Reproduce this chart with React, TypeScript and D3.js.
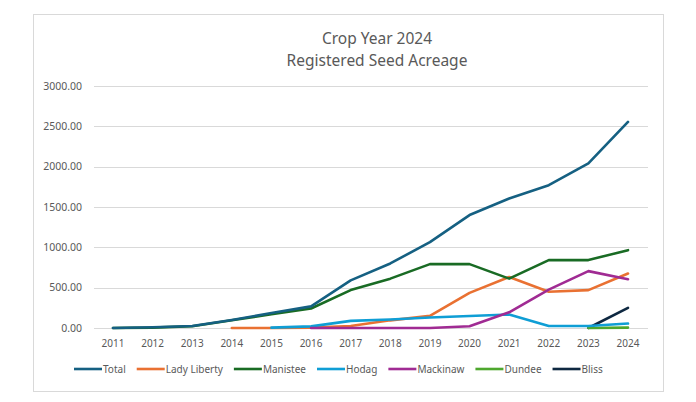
import React, { useEffect, useRef } from 'react';
import * as d3 from 'd3';

const years = ['2011', '2012', '2013', '2014', '2015', '2016', '2017', '2018', '2019', '2020', '2021', '2022', '2023', '2024'];

// null = no value for that year
const total = [0, 10, 25, 100, 185, 268, 590, 800, 1065, 1400, 1605, 1770, 2040, 2555];
const ladyLiberty = [null, null, null, 0, 0, 5, 25, 95, 150, 435, 632, 450, 470, 675];
const manistee = [0, 5, 22, 95, 170, 242, 470, 612, 792, 792, 612, 842, 842, 965];
const hodag = [null, null, null, null, 5, 20, 88, 105, 130, 148, 168, 25, 25, 55];
const mackinaw = [null, null, null, null, null, 0, 0, 0, 0, 22, 195, 475, 705, 605];
const dundee = [null, null, null, null, null, null, null, null, null, null, null, null, 0, 5];
const bliss = [null, null, null, null, null, null, null, null, null, null, null, null, 0, 250];

const seriesNames = ['Total', 'Lady Liberty', 'Manistee', 'Hodag', 'Mackinaw', 'Dundee', 'Bliss'];
const seriesColors = ['#156082', '#E97132', '#196B24', '#0F9ED5', '#A02B93', '#4EA72E', '#0E2841'];
const seriesValues = [total, ladyLiberty, manistee, hodag, mackinaw, dundee, bliss];
// draw order so Total sits on top like the original
const drawOrder = [6, 5, 1, 3, 4, 2, 0];

const yTicks = [0, 500, 1000, 1500, 2000, 2500, 3000];
const titleLines = ['Crop Year 2024', 'Registered Seed Acreage'];

const App: React.FC = () => {
  const svgRef = useRef<SVGSVGElement>(null);

  useEffect(() => {
    if (!svgRef.current) return;
    const svg = d3.select(svgRef.current);
    svg.selectAll('*').remove();

    const width = 696;
    const height = 402;
    const font = "'Noto Sans', 'Open Sans', sans-serif";
    const textColor = '#595959';

    // chart frame
    svg.append('rect')
      .attr('x', 33.5).attr('y', 14.5)
      .attr('width', 630).attr('height', 377)
      .attr('fill', '#fff')
      .attr('stroke', '#d9d9d9')
      .attr('stroke-width', 1);

    // title, two lines
    titleLines.forEach((s, i) => {
      svg.append('text')
        .attr('x', 377)
        .attr('y', 44 + i * 21.5)
        .attr('text-anchor', 'middle')
        .style('font-family', font).style('font-size', '15.5px').style('fill', textColor)
        .text(s);
    });

    const x = d3.scalePoint<string>()
      .domain(years)
      .range([113, 628]);

    const y = d3.scaleLinear()
      .domain([0, 3000])
      .range([328, 86]);

    // gridlines
    svg.append('g')
      .selectAll('line')
      .data(yTicks)
      .enter()
      .append('line')
      .attr('x1', 94).attr('x2', 648)
      .attr('y1', d => Math.round(y(d)) + 0.5)
      .attr('y2', d => Math.round(y(d)) + 0.5)
      .attr('stroke', '#d9d9d9')
      .attr('stroke-width', 1);

    // y labels
    svg.append('g')
      .selectAll('text')
      .data(yTicks)
      .enter()
      .append('text')
      .attr('x', 82)
      .attr('y', d => y(d) + 3.5)
      .attr('text-anchor', 'end')
      .style('font-family', font).style('font-size', '10.5px').style('fill', textColor)
      .text(d => d.toFixed(2));

    // x labels
    svg.append('g')
      .selectAll('text')
      .data(years)
      .enter()
      .append('text')
      .attr('x', d => x(d) as number)
      .attr('y', 347)
      .attr('text-anchor', 'middle')
      .style('font-family', font).style('font-size', '10px').style('fill', textColor)
      .text(d => d);

    const line = d3.line<number | null>()
      .defined(d => d !== null)
      .x((_d, i) => x(years[i]) as number)
      .y(d => y(d as number));

    drawOrder.forEach(si => {
      svg.append('path')
        .datum(seriesValues[si])
        .attr('d', line)
        .attr('fill', 'none')
        .attr('stroke', seriesColors[si])
        .attr('stroke-width', 2.6)
        .attr('stroke-linejoin', 'round')
        .attr('stroke-linecap', 'round');
    });

    // legend
    const legend = svg.append('g');
    let lx = 74;
    const ly = 369;
    seriesNames.forEach((name, i) => {
      legend.append('line')
        .attr('x1', lx).attr('x2', lx + 28)
        .attr('y1', ly).attr('y2', ly)
        .attr('stroke', seriesColors[i])
        .attr('stroke-width', 2.6);
      const t = legend.append('text')
        .attr('x', lx + 29)
        .attr('y', ly + 3.5)
        .style('font-family', font).style('font-size', '10px').style('fill', textColor)
        .text(name);
      const w = (t.node() as SVGTextElement).getComputedTextLength();
      lx += 29 + w + 11;
    });

    svg.attr('width', width).attr('height', height);
  }, []);

  return (
    <svg
      ref={svgRef}
      width={696}
      height={402}
      style={{ position: 'absolute', left: 0, top: 0, background: '#fff' }}
    />
  );
};

export default App;
